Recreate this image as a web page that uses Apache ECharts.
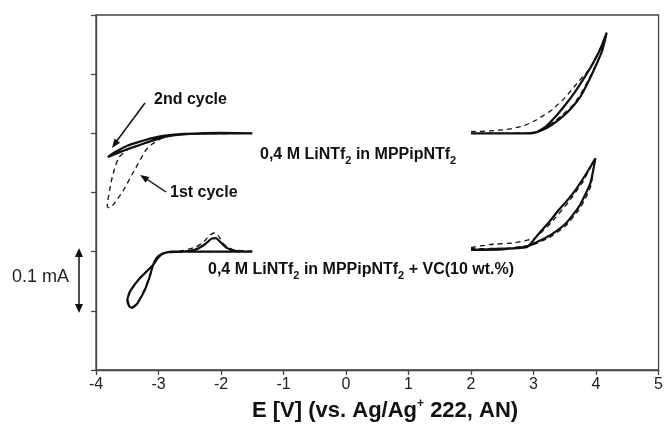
<!DOCTYPE html>
<html>
<head>
<meta charset="utf-8">
<script src="https://cdn.jsdelivr.net/npm/echarts@6/dist/echarts.min.js"></script>
<style>
html,body{margin:0;padding:0;background:#fff;}
#c{width:666px;height:429px;}
</style>
</head>
<body>
<div id="c"></div>
<script>
// x ticks
var xTicks = [-4, -3, -2, -1, 0, 1, 2, 3, 4, 5];
// y in units of 0.1 mA (curves offset for display)
// MPPipNTf2 cathodic, 2nd cycle (solid)
var ulSolid = [[-1.5,4.0],[-2.0,4.0],[-2.5,3.99],[-2.8,3.96],[-3.0,3.91],[-3.2,3.84],[-3.45,3.75],[-3.65,3.67],[-3.81,3.6],[-3.7,3.68],[-3.5,3.79],[-3.3,3.86],[-3.1,3.92],[-2.9,3.96],[-2.6,3.99],[-2.0,4.01],[-1.5,4.0]];
// MPPipNTf2 cathodic, 1st cycle (dashed)
var ulDashed = [[-1.5,4.0],[-2.5,3.99],[-2.9,3.94],[-3.1,3.82],[-3.2,3.72],[-3.41,3.33],[-3.57,3.02],[-3.72,2.8],[-3.78,2.74],[-3.82,2.76],[-3.81,2.87],[-3.78,3.05],[-3.74,3.26],[-3.69,3.45],[-3.63,3.6],[-3.5,3.72],[-3.3,3.8],[-3.05,3.9],[-2.8,3.96],[-2.5,3.99],[-1.5,4.0]];
// MPPipNTf2 anodic (solid)
var urSolid = [[2.0,4.0],[2.5,4.0],[2.9,4.0],[3.05,4.02],[3.2,4.12],[3.35,4.28],[3.5,4.47],[3.65,4.68],[3.8,4.92],[3.95,5.18],[4.08,5.45],[4.17,5.7],[4.1,5.4],[4.0,5.15],[3.88,4.88],[3.75,4.62],[3.6,4.42],[3.45,4.27],[3.3,4.15],[3.15,4.06],[3.0,4.01],[2.5,4.0],[2.0,4.0]];
// MPPipNTf2 anodic (dashed)
var urDashed = [[2.0,4.03],[2.3,4.04],[2.6,4.07],[2.85,4.13],[3.05,4.23],[3.3,4.4],[3.5,4.6],[3.7,4.85],[3.9,5.1],[4.05,5.4],[4.17,5.7],[4.08,5.35],[3.95,5.05],[3.8,4.75],[3.65,4.5],[3.45,4.3],[3.2,4.1],[3.0,4.01],[2.5,4.0],[2.0,4.0]];
// + VC cathodic (solid)
var llSolid = [[-1.5,2.0],[-2.0,2.0],[-2.5,2.0],[-2.8,2.0],[-2.93,1.97],[-3.02,1.88],[-3.09,1.77],[-3.3,1.55],[-3.46,1.32],[-3.5,1.18],[-3.47,1.08],[-3.43,1.05],[-3.38,1.08],[-3.33,1.14],[-3.22,1.35],[-3.14,1.58],[-3.09,1.77],[-3.04,1.88],[-2.97,1.95],[-2.85,1.99],[-2.6,2.0],[-2.4,2.04],[-2.25,2.13],[-2.15,2.22],[-2.08,2.23],[-2.0,2.15],[-1.9,2.06],[-1.75,2.01],[-1.5,2.0]];
// + VC cathodic (dashed)
var llDashed = [[-1.5,2.01],[-1.8,2.03],[-1.95,2.12],[-2.03,2.25],[-2.1,2.32],[-2.18,2.28],[-2.27,2.17],[-2.4,2.08],[-2.6,2.02],[-2.85,1.99],[-2.95,1.96],[-3.03,1.88],[-3.09,1.77],[-3.3,1.55],[-3.45,1.33],[-3.49,1.19],[-3.46,1.08],[-3.43,1.06],[-3.34,1.13],[-3.23,1.35],[-3.15,1.57],[-3.09,1.77],[-3.0,1.92],[-2.85,1.99],[-2.6,2.0],[-2.0,2.0],[-1.5,2.0]];
// + VC anodic (solid)
var lrSolid = [[2.0,2.03],[2.5,2.05],[2.9,2.08],[3.08,2.3],[3.25,2.5],[3.4,2.7],[3.55,2.88],[3.67,3.04],[3.85,3.33],[3.99,3.58],[3.95,3.35],[3.91,3.16],[3.82,2.95],[3.72,2.75],[3.52,2.48],[3.3,2.3],[3.13,2.2],[2.9,2.09],[2.5,2.04],[2.0,2.03]];
// + VC anodic (dashed)
var lrDashed = [[2.0,2.07],[2.3,2.12],[2.7,2.15],[3.0,2.22],[3.1,2.3],[3.29,2.5],[3.56,2.84],[3.8,3.2],[3.97,3.55],[3.95,3.3],[3.91,3.09],[3.82,2.88],[3.72,2.7],[3.5,2.42],[3.25,2.24],[3.0,2.12],[2.6,2.06],[2.0,2.05]];

var chart = echarts.init(document.getElementById('c'), null, {renderer:'canvas'});
var FONT = 'Liberation Sans, Arial, sans-serif';
function solid(d){return {type:'line',data:d,showSymbol:false,smooth:0.15,lineStyle:{color:'#111',width:2.2},z:3};}
function dashed(d){return {type:'line',data:d,showSymbol:false,smooth:0.15,lineStyle:{color:'#111',width:1.3,type:[5,4]},z:4};}

var bRich = {
  b:{fontSize:16,fontWeight:'bold',fontFamily:FONT,fill:'#111',lineHeight:22,verticalAlign:'middle'},
  s:{fontSize:11,fontWeight:'bold',fontFamily:FONT,fill:'#111',verticalAlign:'bottom'}
};

var option = {
  animation:false,
  backgroundColor:'#fff',
  grid:{left:96,right:6,top:15,bottom:59,show:true,borderColor:'#444',borderWidth:1.3,backgroundColor:'transparent'},
  xAxis:{type:'value',min:xTicks[0],max:xTicks[xTicks.length-1],interval:1,
    axisLine:{show:true,onZero:false,lineStyle:{color:'#444',width:1.3}},
    axisTick:{show:true,length:5,inside:false,lineStyle:{color:'#444',width:1.3}},
    axisLabel:{color:'#222',fontSize:16,fontFamily:FONT,margin:7},
    splitLine:{show:false}},
  yAxis:{type:'value',min:0,max:6,interval:1,
    axisLine:{show:true,onZero:false,lineStyle:{color:'#444',width:1.3}},
    axisTick:{show:true,length:5,inside:false,lineStyle:{color:'#444',width:1.3}},
    axisLabel:{show:false},splitLine:{show:false}},
  series:[solid(ulSolid),dashed(ulDashed),solid(urSolid),dashed(urDashed),solid(llSolid),dashed(llDashed),solid(lrSolid),dashed(lrDashed)],
  graphic:[
    {type:'text',left:154,top:92,style:{text:'2nd cycle',font:'bold 16px '+FONT,fill:'#111'}},
    {type:'text',left:170,top:185,style:{text:'1st cycle',font:'bold 16px '+FONT,fill:'#111'}},
    {type:'text',left:260,top:147,style:{text:'{b|0,4 M LiNTf}{s|2}{b| in MPPipNTf}{s|2}',rich:bRich}},
    {type:'text',left:208,top:262,style:{text:'{b|0,4 M LiNTf}{s|2}{b| in MPPipNTf}{s|2}{b| + VC(10 wt.%)}',rich:bRich}},
    {type:'text',left:12,top:268,style:{text:'0.1 mA',font:'18px '+FONT,fill:'#222'}},
    {type:'text',left:252,top:398,style:{text:'{t|E [V] (vs. Ag/Ag}{p|+}{t| 222, AN)}',rich:{
      t:{fontSize:22,fontWeight:'bold',fontFamily:FONT,fill:'#111',lineHeight:26,verticalAlign:'middle'},
      p:{fontSize:12,fontWeight:'bold',fontFamily:FONT,fill:'#111',verticalAlign:'top'}}}},
    // arrows
    {type:'line',shape:{x1:145,y1:103,x2:116,y2:142},style:{stroke:'#111',lineWidth:1.5}},
    {type:'polygon',shape:{points:[[112,148],[120.1,142.8],[114.5,138.6]]},style:{fill:'#111'}},
    {type:'line',shape:{x1:166,y1:192,x2:145,y2:178},style:{stroke:'#111',lineWidth:1.5}},
    {type:'polygon',shape:{points:[[140,175],[149.4,177],[145.6,182.8]]},style:{fill:'#111'}},
    {type:'line',shape:{x1:79,y1:255,x2:79,y2:306},style:{stroke:'#111',lineWidth:1.5}},
    {type:'polygon',shape:{points:[[79,248],[75,257],[83,257]]},style:{fill:'#111'}},
    {type:'polygon',shape:{points:[[79,313],[75,304],[83,304]]},style:{fill:'#111'}}
  ]
};
chart.setOption(option);
</script>
</body>
</html>
